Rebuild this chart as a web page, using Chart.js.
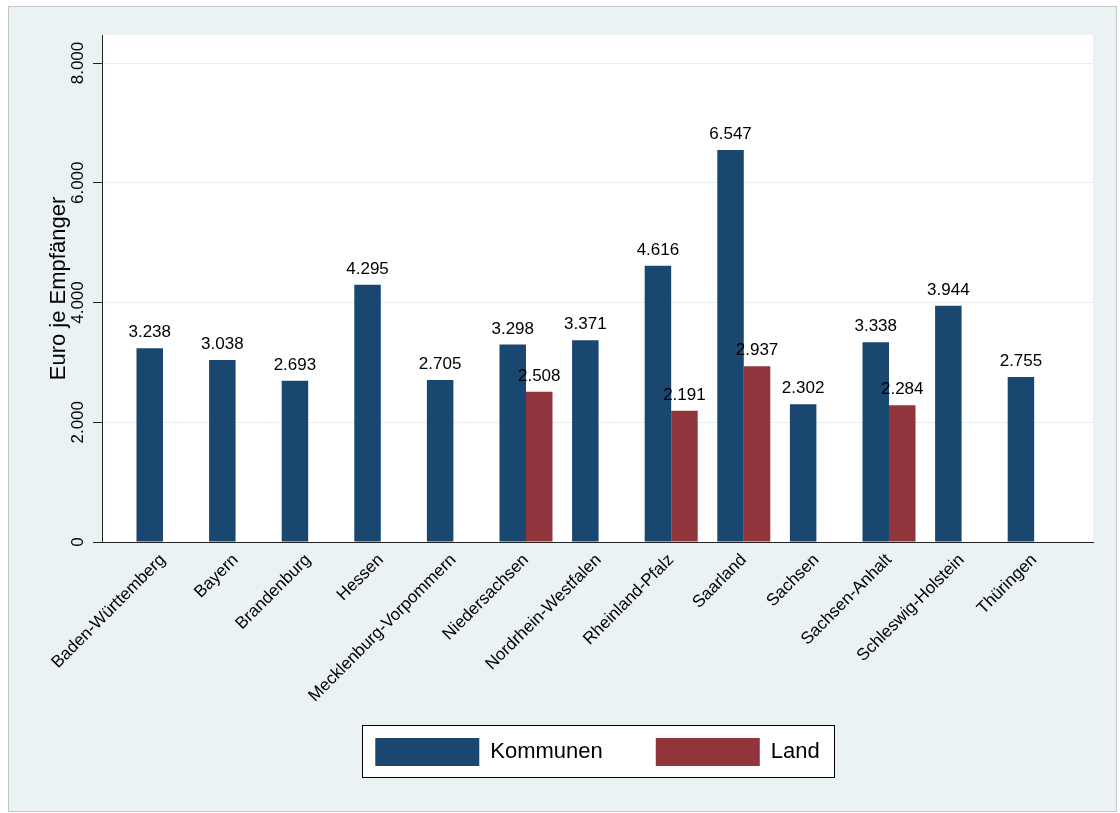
<!DOCTYPE html>
<html>
<head>
<meta charset="utf-8">
<script src="https://cdn.jsdelivr.net/npm/chart.js@4.4.0/dist/chart.umd.min.js"></script>
<style>
  html, body { margin: 0; padding: 0; background: #fff; }
  canvas { display: block; }
</style>
</head>
<body>
<canvas id="chart" width="1120" height="813"></canvas>
<script>
// Chart data
const laender = ['Baden-Württemberg', 'Bayern', 'Brandenburg', 'Hessen', 'Mecklenburg-Vorpommern',
  'Niedersachsen', 'Nordrhein-Westfalen', 'Rheinland-Pfalz', 'Saarland', 'Sachsen',
  'Sachsen-Anhalt', 'Schleswig-Holstein', 'Thüringen'];
const kommunen = [3238, 3038, 2693, 4295, 2705, 3298, 3371, 4616, 6547, 2302, 3338, 3944, 2755];
const land = [null, null, null, null, null, 2508, null, 2191, 2937, null, 2284, null, null];
const yTicks = [0, 2000, 4000, 6000, 8000];

const NAVY = '#1a476f';
const MAROON = '#90353b';
const BG = '#eaf2f3';

// German thousands separator
function fmt(v) {
  return String(v).replace(/\B(?=(\d{3})+(?!\d))/g, '.');
}

function toPoints(values) {
  return values.map((v, i) => ({ x: i, y: v }));
}

Chart.defaults.font.family = "'Liberation Sans', Arial, sans-serif";
Chart.defaults.color = '#000';

// Background, plot region and legend frame
const backgroundPlugin = {
  id: 'stataBackground',
  afterLayout(chart) {
    // let the long rotated category labels run below the axis box without clipping
    chart.scales.x.bottom += 30;
  },
  beforeDraw(chart) {
    const ctx = chart.ctx;
    const a = chart.chartArea;
    ctx.save();
    ctx.fillStyle = '#fff';
    ctx.fillRect(0, 0, chart.width, chart.height);
    ctx.fillStyle = BG;
    ctx.fillRect(8, 6, 1109, 806);
    ctx.strokeStyle = '#c4c8c9';
    ctx.lineWidth = 1;
    ctx.strokeRect(8.5, 6.5, 1108, 805);
    ctx.fillStyle = '#fff';
    ctx.fillRect(a.left, a.top, a.right - a.left, a.bottom - a.top);

    const boxes = chart.legend && chart.legend.legendHitBoxes;
    if (boxes && boxes.length) {
      const first = boxes[0];
      const last = boxes[boxes.length - 1];
      const x1 = first.left - 13;
      const x2 = last.left + last.width + 15;
      const y1 = first.top - 13;
      const y2 = first.top + 28 + 11;
      ctx.fillStyle = '#fff';
      ctx.fillRect(x1, y1, x2 - x1, y2 - y1);
      ctx.strokeStyle = '#000';
      ctx.strokeRect(Math.round(x1) + 0.5, Math.round(y1) + 0.5, Math.round(x2 - x1), Math.round(y2 - y1));
    }
    ctx.restore();
  }
};

// Value labels above the bars
const valueLabelPlugin = {
  id: 'valueLabels',
  afterDatasetsDraw(chart) {
    const ctx = chart.ctx;
    ctx.save();
    ctx.font = "17px 'Liberation Sans', Arial, sans-serif";
    ctx.fillStyle = '#000';
    ctx.textAlign = 'center';
    ctx.textBaseline = 'alphabetic';
    chart.data.datasets.forEach((ds, i) => {
      const meta = chart.getDatasetMeta(i);
      meta.data.forEach((bar, j) => {
        const v = ds.data[j].y;
        if (v === null || v === undefined) return;
        ctx.fillText(fmt(v), bar.x, bar.y - 11);
      });
    });
    ctx.restore();
  }
};

new Chart(document.getElementById('chart'), {
  type: 'bar',
  data: {
    datasets: [
      {
        label: 'Kommunen',
        data: toPoints(kommunen),
        backgroundColor: NAVY,
        borderColor: NAVY,
        borderWidth: 0
      },
      {
        label: 'Land',
        data: toPoints(land),
        backgroundColor: MAROON,
        borderColor: MAROON,
        borderWidth: 0
      }
    ]
  },
  options: {
    responsive: false,
    animation: false,
    devicePixelRatio: 1,
    categoryPercentage: 0.73,
    barPercentage: 1.0,
    layout: {
      padding: { top: 35, right: 27, bottom: 37, left: 0 }
    },
    plugins: {
      tooltip: { enabled: false },
      legend: {
        position: 'bottom',
        fullSize: false,
        labels: {
          boxWidth: 104,
          boxHeight: 28,
          padding: 53,
          color: '#000',
          font: { size: 22 }
        }
      }
    },
    scales: {
      x: {
        type: 'linear',
        min: -0.84,
        max: 12.81,
        offset: false,
        afterBuildTicks(scale) {
          scale.ticks = laender.map((_, i) => ({ value: i }));
        },
        afterFit(scale) {
          scale.height = 143;
        },
        grid: { display: false, drawTicks: false },
        border: { display: true, color: '#222', width: 1 },
        ticks: {
          autoSkip: false,
          minRotation: 45,
          maxRotation: 45,
          padding: 8,
          color: '#000',
          font: { size: 17 },
          callback: (v) => laender[v]
        }
      },
      y: {
        min: 0,
        max: 8468,
        afterBuildTicks(scale) {
          scale.ticks = yTicks.map(v => ({ value: v }));
        },
        afterFit(scale) {
          scale.width = 102;
        },
        grid: {
          color: (c) => (c.tick && c.tick.value === 0) ? 'rgba(0,0,0,0)' : '#e6eef0',
          tickColor: '#222',
          tickLength: 9,
          drawTicks: true
        },
        border: { display: true, color: '#222', width: 1 },
        ticks: {
          minRotation: 90,
          maxRotation: 90,
          crossAlign: 'center',
          padding: -7,
          color: '#000',
          font: { size: 17 },
          callback: (v) => fmt(v)
        },
        title: {
          display: true,
          text: 'Euro je Empfänger',
          color: '#000',
          font: { size: 22 },
          padding: { top: 46, bottom: 0 }
        }
      }
    }
  },
  plugins: [backgroundPlugin, valueLabelPlugin]
});
</script>
</body>
</html>
